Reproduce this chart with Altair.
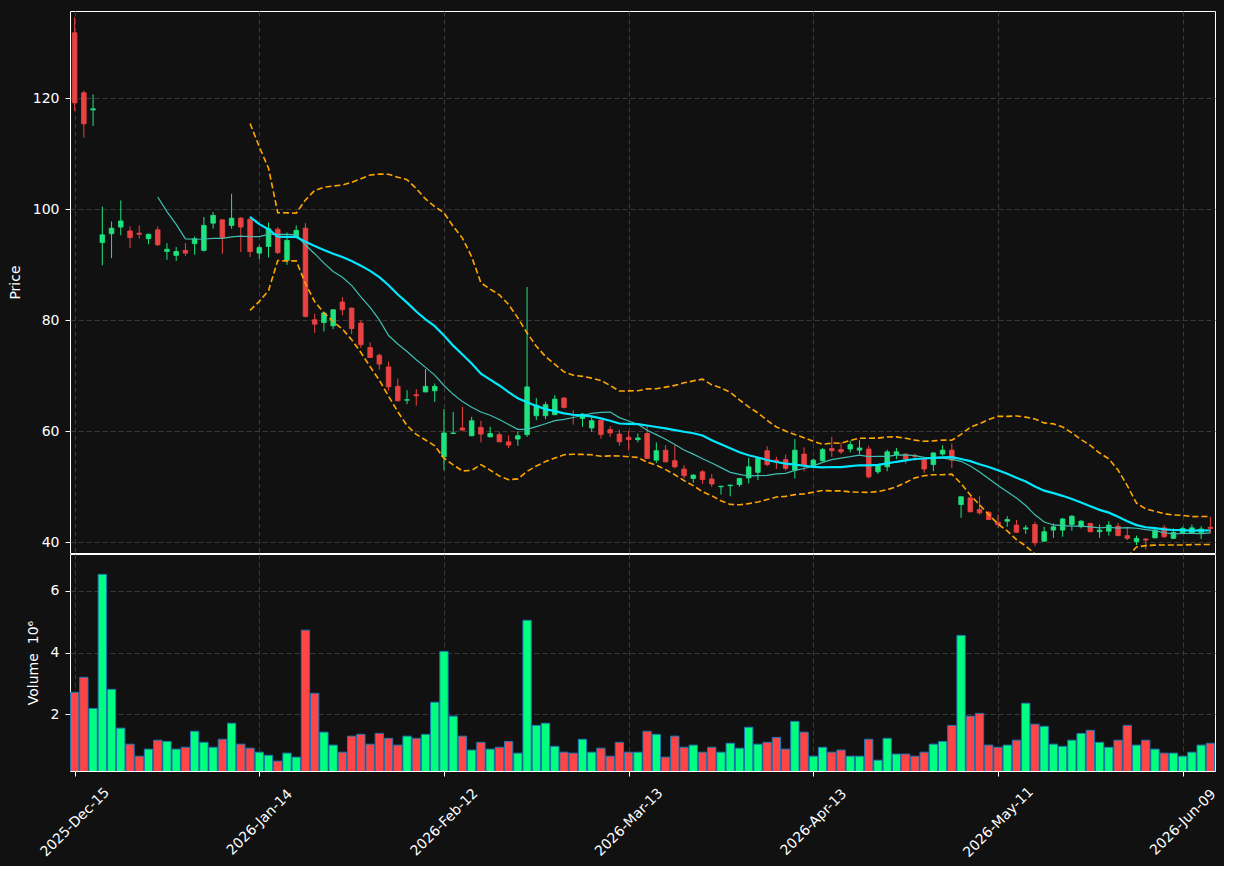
import altair as alt
import pandas as pd

# ---- data ----
tick_idx = [0, 20, 40, 60, 80, 100, 120]
tick_labels = ["2025-Dec-15", "2026-Jan-14", "2026-Feb-12", "2026-Mar-13",
               "2026-Apr-13", "2026-May-11", "2026-Jun-09"]

opens = [131.8, 121.0, 117.9, 94.0, 95.6, 96.8, 96.1, 95.7, 94.7, 96.3,
         92.4, 91.7, 92.6, 93.8, 92.6, 97.5, 98.1, 97.1, 98.4, 98.2,
         92.1, 93.3, 96.4, 90.8, 95.0, 96.6, 80.1, 79.6, 79.0, 83.3,
         82.2, 79.5, 75.1, 73.7, 71.6, 68.1, 65.6, 66.6, 67.1, 67.3,
         55.4, 59.6, 60.6, 59.2, 60.7, 59.0, 59.4, 58.1, 58.6, 59.4,
         62.8, 62.8, 63.0, 66.0, 63.0, 62.3, 60.6, 62.0, 60.3, 59.5,
         58.9, 58.5, 59.6, 54.8, 56.6, 54.7, 53.2, 51.5, 52.7, 51.4,
         50.0, 50.2, 50.4, 51.6, 52.6, 56.5, 54.8, 54.9, 53.0, 55.9,
         53.7, 54.7, 56.9, 56.7, 56.8, 56.6, 56.8, 52.7, 53.6, 55.8,
         55.9, 55.6, 54.9, 54.0, 55.9, 56.6, 46.8, 48.0, 45.9, 45.4,
         43.6, 43.8, 43.1, 42.4, 43.2, 40.2, 42.2, 42.2, 43.2, 42.8,
         43.4, 41.9, 42.0, 42.9, 41.2, 40.1, 40.6, 40.8, 42.6, 40.7,
         41.7, 41.7, 41.8, 42.7]
highs = [134.6, 121.4, 120.7, 100.5, 97.8, 101.6, 96.9, 97.1, 95.6, 96.9,
         93.9, 93.2, 93.9, 95.1, 98.6, 99.5, 98.2, 102.8, 98.6, 98.5,
         93.5, 97.6, 96.8, 95.8, 97.1, 97.5, 81.2, 81.4, 82.0, 84.2,
         82.3, 80.0, 76.0, 74.0, 72.6, 69.5, 67.4, 67.6, 71.2, 68.6,
         64.0, 63.5, 64.4, 62.6, 61.9, 60.8, 59.8, 59.3, 60.0, 86.0,
         66.0, 65.3, 66.5, 66.2, 63.8, 63.3, 62.6, 62.1, 60.9, 60.3,
         60.1, 59.6, 61.1, 58.0, 57.5, 57.5, 53.9, 52.3, 53.0, 52.3,
         50.2, 50.4, 51.6, 55.2, 55.2, 57.3, 55.4, 55.8, 58.6, 57.1,
         55.1, 57.0, 59.0, 58.0, 58.3, 58.4, 57.4, 54.0, 56.7, 57.0,
         56.0, 56.0, 55.4, 56.2, 57.5, 57.8, 48.3, 48.3, 48.3, 45.6,
         45.0, 44.7, 44.0, 43.1, 43.7, 42.8, 43.4, 44.4, 44.9, 44.0,
         43.5, 43.2, 43.8, 43.5, 42.6, 41.2, 40.7, 42.4, 43.1, 42.5,
         42.8, 43.2, 42.9, 44.6]
lows = [117.7, 112.9, 115.0, 89.9, 91.2, 95.3, 93.0, 94.7, 93.7, 93.4,
        90.9, 90.7, 91.6, 91.8, 92.4, 96.5, 92.0, 96.5, 92.3, 91.4,
        91.0, 91.3, 91.9, 90.0, 94.9, 80.5, 77.7, 78.0, 78.4, 80.9,
        77.5, 75.0, 73.2, 71.1, 67.3, 65.4, 64.9, 64.6, 67.0, 65.3,
        53.0, 59.5, 60.2, 59.1, 58.0, 58.9, 58.0, 57.0, 57.4, 59.0,
        62.0, 62.2, 62.9, 64.1, 61.2, 60.8, 59.9, 58.7, 59.0, 57.4,
        56.5, 58.0, 55.0, 54.3, 54.4, 53.3, 51.5, 50.7, 50.5, 50.0,
        48.6, 48.3, 50.0, 50.6, 51.2, 53.7, 53.2, 52.9, 51.5, 52.8,
        53.5, 54.5, 55.4, 55.9, 56.2, 55.9, 51.5, 52.3, 52.8, 55.0,
        54.2, 54.7, 52.5, 52.8, 55.6, 53.4, 44.4, 45.4, 45.0, 44.0,
        42.6, 42.8, 41.7, 41.5, 39.3, 40.1, 40.8, 41.0, 42.1, 42.5,
        41.8, 40.8, 41.2, 41.1, 40.4, 39.5, 38.7, 40.7, 40.8, 40.6,
        41.5, 41.6, 40.6, 41.6]
closes = [119.2, 115.4, 118.1, 95.4, 96.6, 97.9, 94.9, 95.5, 95.5, 93.6,
          92.8, 92.4, 92.1, 94.7, 97.1, 98.9, 94.9, 98.4, 96.8, 92.4,
          93.1, 96.5, 92.2, 94.4, 96.2, 80.7, 79.3, 81.3, 81.9, 81.9,
          78.5, 75.6, 73.3, 72.1, 68.0, 65.5, 65.7, 66.4, 68.1, 68.1,
          59.7, 59.7, 60.2, 61.9, 59.5, 59.6, 58.1, 57.5, 59.2, 68.0,
          64.7, 64.8, 65.8, 64.3, 62.9, 63.1, 61.9, 59.4, 59.7, 58.1,
          58.5, 58.8, 55.1, 56.5, 54.5, 53.6, 52.0, 52.1, 51.3, 50.5,
          50.1, 50.3, 51.5, 53.6, 55.1, 54.0, 54.6, 53.3, 56.6, 53.8,
          54.8, 56.7, 56.5, 56.3, 57.6, 57.0, 51.8, 53.9, 56.3, 56.3,
          55.0, 55.5, 53.2, 56.1, 56.6, 54.8, 48.2, 45.5, 45.3, 44.1,
          43.2, 44.1, 41.8, 42.6, 39.9, 41.9, 42.8, 44.2, 44.7, 43.8,
          41.9, 42.2, 43.1, 41.2, 40.7, 40.7, 40.4, 42.2, 41.0, 41.8,
          42.5, 42.6, 42.4, 42.5]
volumes = [2.71, 3.20, 2.19, 6.54, 2.81, 1.55, 1.03, 0.64, 0.87, 1.16,
           1.12, 0.87, 0.93, 1.45, 1.09, 0.93, 1.19, 1.71, 1.03, 0.90,
           0.77, 0.67, 0.48, 0.74, 0.61, 4.73, 2.68, 1.42, 1.00, 0.77,
           1.29, 1.35, 1.03, 1.38, 1.22, 1.00, 1.29, 1.22, 1.35, 2.39,
           4.04, 1.94, 1.29, 0.84, 1.09, 0.87, 0.93, 1.12, 0.74, 5.05,
           1.64, 1.71, 0.96, 0.77, 0.74, 1.19, 0.77, 0.90, 0.64, 1.09,
           0.77, 0.77, 1.45, 1.35, 0.61, 1.29, 0.93, 1.00, 0.77, 0.93,
           0.77, 1.06, 0.90, 1.58, 1.03, 1.09, 1.25, 0.87, 1.77, 1.42,
           0.64, 0.93, 0.77, 0.84, 0.64, 0.64, 1.19, 0.51, 1.22, 0.71,
           0.71, 0.64, 0.77, 1.03, 1.12, 1.64, 4.56, 1.94, 2.03, 1.00,
           0.93, 1.00, 1.16, 2.36, 1.68, 1.61, 1.03, 0.96, 1.16, 1.38,
           1.48, 1.09, 0.93, 1.16, 1.64, 1.00, 1.16, 0.87, 0.74, 0.74,
           0.64, 0.77, 1.00, 1.06]

df = pd.DataFrame({
    "i": list(range(len(opens))),
    "open": opens, "high": highs, "low": lows, "close": closes, "vol": volumes,
})

# ---- styling ----
BG = "#111111"
UP_C, DN_C = "#1ee37f", "#ea4242"
VUP, VDN = "#00ff80", "#ff4545"
FONT = "DejaVu Sans"

label_expr = " : ".join(f"datum.value == {t} ? '{l}'" for t, l in zip(tick_idx, tick_labels)) + " : ''"

xdom = [-0.5, len(opens) - 0.5]
xscale = alt.Scale(domain=xdom, nice=False, zero=False)
pscale = alt.Scale(domain=[38.07, 135.73], nice=False, zero=False)
vscale = alt.Scale(domain=[0.16, 7.2], nice=False, zero=False)

up_test = "datum.close >= datum.open"
c_candle = alt.condition(up_test, alt.value(UP_C), alt.value(DN_C))
c_vol = alt.condition(up_test, alt.value(VUP), alt.value(VDN))

base = alt.Chart(df).transform_calculate(
    x0="datum.i - 0.25", x1="datum.i + 0.25",
    v0="datum.i - 0.45", v1="datum.i + 0.45",
)

x_price_axis = alt.Axis(values=tick_idx, labels=False, ticks=False, domain=False,
                        grid=True, title=None)
y_price_axis = alt.Axis(values=[40, 60, 80, 100, 120], title="Price", grid=True,
                        titlePadding=10)

wicks = base.mark_rule(strokeWidth=1, clip=True).encode(
    x=alt.X("i:Q", scale=xscale, axis=x_price_axis),
    y=alt.Y("low:Q", scale=pscale, axis=y_price_axis, title="Price"),
    y2="high:Q",
    color=c_candle,
)
bodies = base.mark_rect(strokeWidth=0.8, clip=True).encode(
    x=alt.X("x0:Q", scale=xscale),
    x2="x1:Q",
    y=alt.Y("open:Q", scale=pscale, title="Price"),
    y2="close:Q",
    color=c_candle,
    stroke=c_candle,
)

ma = base.transform_window(
    ma10="mean(close)", n10="count()", frame=[-9, 0], sort=[alt.SortField("i")]
).transform_window(
    ma20="mean(close)", sd20="stdev(close)", n20="count()", frame=[-19, 0],
    sort=[alt.SortField("i")]
).transform_calculate(
    bu="datum.ma20 + 2 * datum.sd20", bl="datum.ma20 - 2 * datum.sd20"
)

ma10 = ma.transform_filter("datum.n10 >= 10").mark_line(
    color="#3fbfb2", strokeWidth=1.2, clip=True
).encode(x=alt.X("i:Q", scale=xscale), y=alt.Y("ma10:Q", scale=pscale, title="Price"))

ma20 = ma.transform_filter("datum.n20 >= 20").mark_line(
    color="#00e8ff", strokeWidth=2.2, clip=True
).encode(x=alt.X("i:Q", scale=xscale), y=alt.Y("ma20:Q", scale=pscale, title="Price"))

band_up = ma.transform_filter("datum.n20 >= 20").mark_line(
    color="#ffa500", strokeWidth=1.6, strokeDash=[6, 3], clip=True
).encode(x=alt.X("i:Q", scale=xscale), y=alt.Y("bu:Q", scale=pscale, title="Price"))

band_lo = ma.transform_filter("datum.n20 >= 20").mark_line(
    color="#ffa500", strokeWidth=1.6, strokeDash=[6, 3], clip=True
).encode(x=alt.X("i:Q", scale=xscale), y=alt.Y("bl:Q", scale=pscale, title="Price"))

price = alt.layer(wicks, bodies, ma10, ma20, band_up, band_lo).properties(
    width=1145, height=542
)

volume = base.mark_rect(stroke="#1f77b4", strokeWidth=1, clip=True).encode(
    x=alt.X("v0:Q", scale=xscale,
            axis=alt.Axis(values=tick_idx, labelExpr=label_expr, labelAngle=-45,
                          labelAlign="center", labelBaseline="middle",
                          labelPadding=46, labelOverlap=False, labelFlush=False,
                          grid=True, ticks=True, tickSize=5, title=None)),
    x2="v1:Q",
    y=alt.Y("vol:Q", scale=vscale,
            axis=alt.Axis(values=[2, 4, 6], title="Volume\u00a0\u00a010⁶", grid=True,
                          titlePadding=10)),
    y2=alt.datum(0),
    color=c_vol,
).properties(width=1145, height=217)

chart = alt.vconcat(price, volume, spacing=1, bounds="flush").properties(
    padding={"left": 7, "top": 10, "right": 5, "bottom": 5},
    background=BG,
).configure(
    font=FONT
).configure_view(
    stroke="white", strokeWidth=1, fill=BG
).configure_axis(
    labelColor="white", labelFont=FONT, labelFontSize=14,
    titleColor="white", titleFont=FONT, titleFontSize=14, titleFontWeight="normal",
    tickColor="white", tickSize=5, tickWidth=1, labelPadding=6,
    domain=False, gridColor="#3a3a3a", gridDash=[5, 3], gridWidth=1,
)

chart.save("out.html", embed_options={"renderer": "svg", "actions": False})
